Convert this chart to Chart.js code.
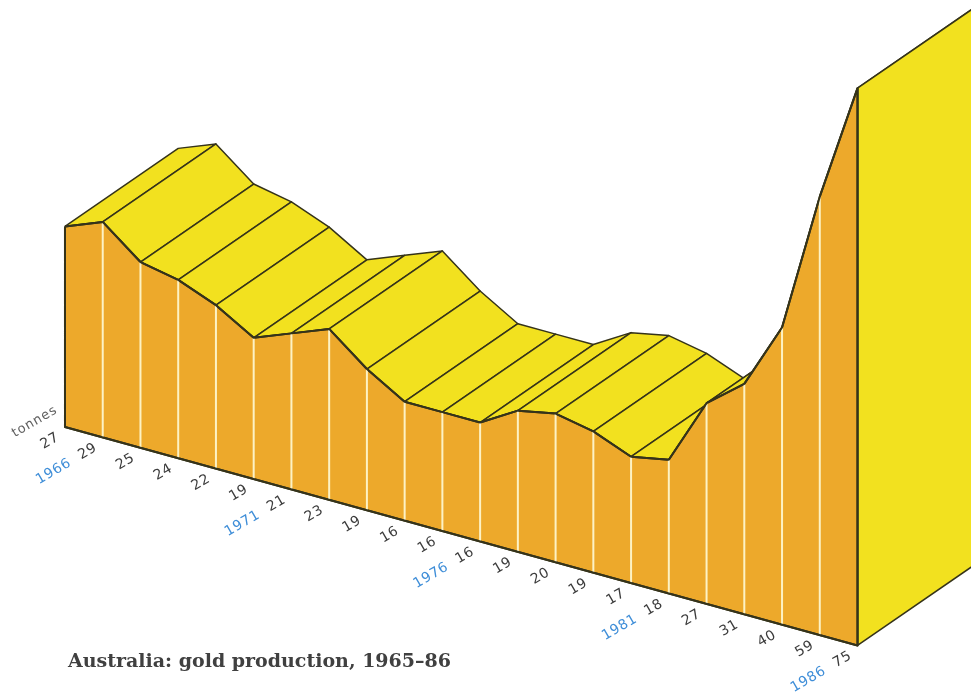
<!DOCTYPE html>
<html>
<head>
<meta charset="utf-8">
<title>Australia: gold production, 1965-86</title>
<script src="https://cdn.jsdelivr.net/npm/chart.js@4"></script>
<style>
  html, body { margin: 0; padding: 0; background: #fff; }
  canvas { display: block; }
</style>
</head>
<body>
<canvas id="goldChart" width="971" height="699"></canvas>
<script>
const years = [
  1965, 1966, 1967, 1968, 1969, 1970, 1971, 1972, 1973, 1974, 1975,
  1976, 1977, 1978, 1979, 1980, 1981, 1982, 1983, 1984, 1985, 1986
];
const tonnes = [27, 29, 25, 24, 22, 19, 21, 23, 19, 16, 16, 16, 19, 20, 19, 17, 18, 27, 31, 40, 59, 75];
const yearLabels = ['1966', '1971', '1976', '1981', '1986'];
const titleText = 'Australia: gold production, 1965\u201386';

const ORANGE = '#eda92b';
const YELLOW = '#f2e11f';
const INK = '#35331a';
const PALE = '#fdf2c4';

// oblique projection, in axis units: baseline falls per year, depth runs up and to the right
const FALL = 1.4;
const DEPTH_X = 3;
const DEPTH_Y = 10.5;

function project(i, value, depth) {
  return {
    x: i + depth * DEPTH_X,
    y: value - i * FALL + depth * DEPTH_Y
  };
}

function outline(points, color, order, width) {
  return {
    data: points,
    showLine: true,
    fill: 'shape',
    backgroundColor: color,
    borderColor: INK,
    borderWidth: width,
    borderJoinStyle: 'round',
    tension: 0,
    pointRadius: 0,
    order: order
  };
}

const datasets = [];
const last = tonnes.length - 1;

// top surface, far end first so the nearer strips lie over it
for (let i = 0; i < last; i++) {
  datasets.push(outline([
    project(i, tonnes[i], 0),
    project(i + 1, tonnes[i + 1], 0),
    project(i + 1, tonnes[i + 1], 1),
    project(i, tonnes[i], 1),
    project(i, tonnes[i], 0)
  ], YELLOW, 100 - i, 1.5));
}

// right hand wall, runs off the edge of the page
datasets.push(outline([
  project(last, tonnes[last], 0),
  project(last, tonnes[last], 1.1),
  project(last, 0, 1.1),
  project(last, 0, 0),
  project(last, tonnes[last], 0)
], YELLOW, 5, 1.5));

// front face
const front = tonnes.map((v, i) => project(i, v, 0));
front.push(project(last, 0, 0), project(0, 0, 0), project(0, tonnes[0], 0));
datasets.push(outline(front, ORANGE, 4, 2));

// pale year rules on the front face
for (let i = 1; i < last; i++) {
  datasets.push({
    data: [project(i, tonnes[i], 0), project(i, 0, 0)],
    showLine: true,
    borderColor: PALE,
    borderWidth: 2,
    pointRadius: 0,
    order: 3
  });
}

// the top edge and baseline go back over the rules
const ridge = outline(front, ORANGE, 2, 2);
ridge.fill = false;
datasets.push(ridge);

function drawRotated(ctx, text, x, y, font, color, spacing) {
  ctx.save();
  ctx.translate(x, y);
  ctx.rotate(-Math.PI / 6);
  ctx.font = font;
  ctx.fillStyle = color;
  ctx.letterSpacing = spacing;
  ctx.textAlign = 'center';
  ctx.textBaseline = 'middle';
  ctx.fillText(text, 0, 0);
  ctx.restore();
}

const axisText = {
  id: 'axisText',
  afterDraw(chart) {
    const { ctx, scales } = chart;
    const at = (i, v, dx, dy) => {
      const p = project(i, v, 0);
      return [scales.x.getPixelForValue(p.x + dx), scales.y.getPixelForValue(p.y + dy)];
    };
    tonnes.forEach((v, i) => {
      const [x, y] = at(i, 0, -0.4, -1.9);
      drawRotated(ctx, String(v), x, y, '14px "DejaVu Sans"', '#3c3c3c', '0.6px');
      const year = String(years[i]);
      if (yearLabels.includes(year)) {
        const [yx, yy] = at(i, 0, -1.3, -4.6);
        drawRotated(ctx, year, yx, yy, '14px "DejaVu Sans"', '#3f8ed8', '0.6px');
      }
    });
    const [tx, ty] = at(0, 0, -0.8, 0.7);
    drawRotated(ctx, 'tonnes', tx, ty, '13px "DejaVu Sans"', '#606060', '1px');

    ctx.save();
    ctx.font = 'bold 19px "DejaVu Serif"';
    ctx.fillStyle = '#404040';
    ctx.textBaseline = 'alphabetic';
    ctx.fillText(titleText, 68, 667);
    ctx.restore();
  }
};

new Chart(document.getElementById('goldChart'), {
  type: 'scatter',
  data: { datasets: datasets },
  plugins: [axisText],
  options: {
    responsive: false,
    animation: false,
    layout: { padding: 0 },
    plugins: {
      legend: { display: false },
      title: { display: false },
      tooltip: { enabled: false }
    },
    scales: {
      x: { type: 'linear', display: false, min: -1.722, max: 24.007 },
      y: { type: 'linear', display: false, min: -36.61, max: 57.47 }
    }
  }
});
</script>
</body>
</html>
